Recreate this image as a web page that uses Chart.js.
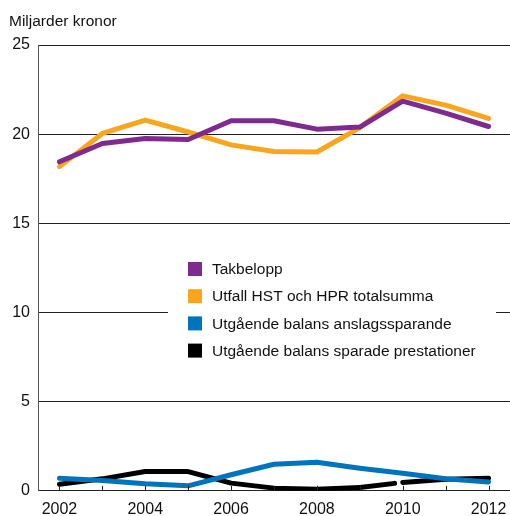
<!DOCTYPE html>
<html><head><meta charset="utf-8">
<script src="https://cdn.jsdelivr.net/npm/chart.js@4/dist/chart.umd.min.js"></script>
<style>html,body{margin:0;padding:0;background:#fff}#wrap{width:510px;height:516px;position:relative}</style>
</head><body><div id="wrap"><canvas id="c" width="510" height="516"></canvas></div>
<script>
const years = ['2002','2003','2004','2005','2006','2007','2008','2009','2010','2011','2012'];
const takbelopp = [18.45, 19.48, 19.76, 19.7, 20.75, 20.75, 20.28, 20.4, 21.85, 21.18, 20.43];
const utfall = [18.18, 20.04, 20.79, 20.12, 19.4, 19.03, 19.0, 20.37, 22.15, 21.63, 20.88];
const anslagssparande = [0.71, 0.58, 0.39, 0.28, 0.9, 1.49, 1.6, 1.27, 0.99, 0.67, 0.5];
const sparadePrest = [0.37, 0.67, 1.08, 1.08, 0.43, 0.15, 0.09, 0.19, 0.47, 0.65, 0.71];
const seriesNames = ['Takbelopp','Utfall HST och HPR totalsumma','Utgående balans anslagssparande','Utgående balans sparade prestationer'];
const colors = ['#7f2a8e','#f9a51d','#0073bd','#000000'];
const yTicks = [0,5,10,15,20,25];
const unitLabel = 'Miljarder kronor';
const FONT = '"Liberation Sans", Arial, sans-serif';

const mk = (i, data) => ({
  label: seriesNames[i], data, borderColor: colors[i], backgroundColor: colors[i],
  borderWidth: 5, pointRadius: 0, tension: 0, fill: false,
  borderCapStyle: 'round', borderJoinStyle: 'round'
});

const decor = {
  id: 'decor',
  afterDraw(chart) {
    const ctx = chart.ctx, x = chart.scales.x, y = chart.scales.y;
    ctx.save();
    ctx.strokeStyle = '#222'; ctx.lineWidth = 1;
    years.forEach((yr, i) => {
      const px = Math.round(x.getPixelForValue(i)) + 0.5;
      ctx.beginPath(); ctx.moveTo(px, y.bottom); ctx.lineTo(px, y.bottom - 5); ctx.stroke();
    });
    ctx.fillStyle = '#111'; ctx.font = '15.5px ' + FONT; ctx.textBaseline = 'middle'; ctx.textAlign = 'left';
    ctx.fillText(unitLabel, 9, 22);
    ctx.fillStyle = '#fff'; ctx.fillRect(168, 252, 328, 116);
    seriesNames.forEach((n, i) => {
      const cy = 269 + i * 27.2;
      ctx.fillStyle = colors[i]; ctx.fillRect(188, cy - 7, 14, 14);
      ctx.fillStyle = '#111'; ctx.font = '15.5px ' + FONT;
      ctx.fillText(n, 212, cy + 1);
    });
    ctx.restore();
  }
};

new Chart(document.getElementById('c'), {
  type: 'line',
  data: { labels: years, datasets: [
    mk(0, takbelopp), mk(1, utfall), mk(2, anslagssparande),
    Object.assign(mk(3, sparadePrest), { segment: { borderDash: c => c.p0DataIndex === 7 ? [35, 13] : undefined } })
  ]},
  options: {
    responsive: false, animation: false, devicePixelRatio: 1,
    layout: { padding: { top: 45, right: 0, left: 0, bottom: -12 } },
    plugins: { legend: { display: false }, tooltip: { enabled: false } },
    scales: {
      x: {
        offset: true,
        afterFit: s => { s.paddingRight = 0; s.paddingLeft = 0; },
        grid: { display: false, drawTicks: false },
        border: { display: true, color: '#222', width: 1 },
        ticks: { color: '#111', font: { family: FONT, size: 16 }, padding: 9, maxRotation: 0, autoSkip: false,
          callback: (v, i) => i % 2 === 0 ? years[i] : '' }
      },
      y: {
        min: 0, max: 25,
        afterFit: s => { s.width = 38; },
        afterBuildTicks: s => { s.ticks = yTicks.map(v => ({ value: v })); },
        grid: { color: '#222', lineWidth: c => c.tick && c.tick.value === 0 ? 0 : 1, drawTicks: false },
        border: { display: true, color: '#555', width: 1 },
        ticks: { color: '#111', font: { family: FONT, size: 16 }, padding: 8 }
      }
    }
  },
  plugins: [decor]
});
</script></body></html>
